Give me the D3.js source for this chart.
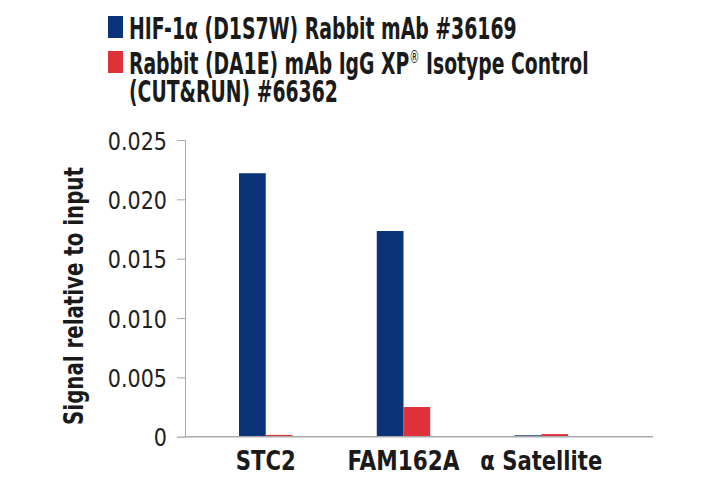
<!DOCTYPE html>
<html>
<head>
<meta charset="utf-8">
<script src="https://cdn.jsdelivr.net/npm/d3@7"></script>
<style>
  body { margin: 0; background: #fff; }
  svg { display: block; }
</style>
</head>
<body>
<div id="chart"></div>
<script>
// data
const categories = ["STC2", "FAM162A", "\u03b1 Satellite"]
const seriesNames = [
    "HIF-1\u03b1 (D1S7W) Rabbit mAb #36169",
    "Rabbit (DA1E) mAb IgG XP\u00ae Isotype Control (CUT&RUN) #66362"
]
const hifValues = [0.0222, 0.01733, 0.00012]
const iggValues = [0.00015, 0.0025, 0.00022]
const yTicks = [0, 0.005, 0.010, 0.015, 0.020, 0.025]
const yTickLabels = ["0", "0.005", "0.010", "0.015", "0.020", "0.025"]

const width = 723
const height = 487
const colors = ["#0b3378", "#df3139"]
const boldFont = "'Liberation Sans Narrow', 'DejaVu Sans Condensed', sans-serif"

const svg = d3.select("#chart")
    .append("svg")
    .attr("width", width)
    .attr("height", height)

// squeeze a text horizontally so it takes the narrow look of the original font
function squeeze(sel, target) {
    sel.each(function () {
        const w = this.getComputedTextLength()
        const k = Math.min(1, target / w)
        const t = d3.select(this).attr("transform") || ""
        d3.select(this).attr("transform", `${t} scale(${k},1)`)
    })
}

//scales
const x0 = d3.scaleBand()
    .domain(categories)
    .range([185, 622])
    .paddingInner(0.612)
    .paddingOuter(0.392)

const x1 = d3.scaleBand()
    .domain([0, 1])
    .range([0, x0.bandwidth()])

const y = d3.scaleLinear()
    .domain([0, 0.025])
    .range([436.7, 140])

//bars
const rows = categories.map((c, i) => ({ cat: c, vals: [hifValues[i], iggValues[i]] }))

const groups = svg.append("g")
    .selectAll("g")
    .data(rows)
    .join("g")
    .attr("transform", d => `translate(${x0(d.cat)},0)`)

groups.selectAll("rect")
    .data(d => d.vals.map((v, k) => ({ k: k, v: v })))
    .join("rect")
    .attr("x", d => x1(d.k))
    .attr("width", x1.bandwidth())
    .attr("y", d => y(d.v))
    .attr("height", d => y(0) - y(d.v))
    .attr("fill", d => colors[d.k])

//y axis
const yAxis = svg.append("g")
    .attr("transform", "translate(185,0)")
    .call(d3.axisLeft(y)
        .tickValues(yTicks)
        .tickFormat((d, i) => yTickLabels[i])
        .tickSize(8))

yAxis.select(".domain").attr("stroke", "#aaa").attr("stroke-width", 1)
yAxis.selectAll(".tick line").attr("stroke", "#aaa")
yAxis.selectAll(".tick text")
    .attr("fill", "#222")
    .attr("x", 0)
    .attr("dy", "0.36em")
    .attr("transform", "translate(-18,0) scale(0.92,1)")
    .style("font-family", "'Liberation Sans Narrow', 'DejaVu Sans Condensed', sans-serif")
    .style("font-size", "25px")

//x axis baseline
svg.append("line")
    .attr("x1", 185)
    .attr("x2", 653)
    .attr("y1", y(0))
    .attr("y2", y(0))
    .attr("stroke", "#aaa")
    .attr("stroke-width", 1.5)

//category labels
const labelWidths = [60, 112, 122]
svg.append("g")
    .selectAll("text")
    .data(categories)
    .join("text")
    .attr("transform", d => `translate(${x0(d) + x0.bandwidth() / 2},470)`)
    .attr("text-anchor", "middle")
    .style("font-family", boldFont)
    .style("font-weight", "bold")
    .style("font-size", "27px")
    .attr("fill", "#1a1a1a")
    .text(d => d)
    .each(function (d, i) { squeeze(d3.select(this), labelWidths[i]) })

//y title
svg.append("text")
    .attr("transform", "translate(83,296) rotate(-90)")
    .attr("text-anchor", "middle")
    .style("font-family", boldFont)
    .style("font-weight", "bold")
    .style("font-size", "27px")
    .attr("fill", "#1a1a1a")
    .text("Signal relative to input")
    .call(squeeze, 258)

//legend
const legend = svg.append("g")
const legendLines = [
    { txt: seriesNames[0], y: 39, k: 0, w: 388 },
    { txt: "Rabbit (DA1E) mAb IgG XP", sup: "\u00ae", rest: " Isotype Control", y: 74, k: 1, w: 460 },
    { txt: "(CUT&RUN) #66362", y: 102, k: -1, w: 209 }
]

legendLines.forEach(l => {
    if (l.k >= 0) {
        legend.append("rect")
            .attr("x", 108)
            .attr("y", l.y - 23)
            .attr("width", 15)
            .attr("height", 22)
            .attr("fill", colors[l.k])
    }
    const t = legend.append("text")
        .attr("transform", `translate(129,${l.y})`)
        .style("font-family", boldFont)
        .style("font-weight", "bold")
        .style("font-size", "31px")
        .attr("fill", "#1a1a1a")
    t.append("tspan").text(l.txt)
    if (l.sup) {
        t.append("tspan").attr("dy", -11).style("font-size", "17px").style("font-weight", "normal").text(l.sup)
        t.append("tspan").attr("dy", 11).text(l.rest)
    }
    squeeze(t, l.w)
})
</script>
</body>
</html>
